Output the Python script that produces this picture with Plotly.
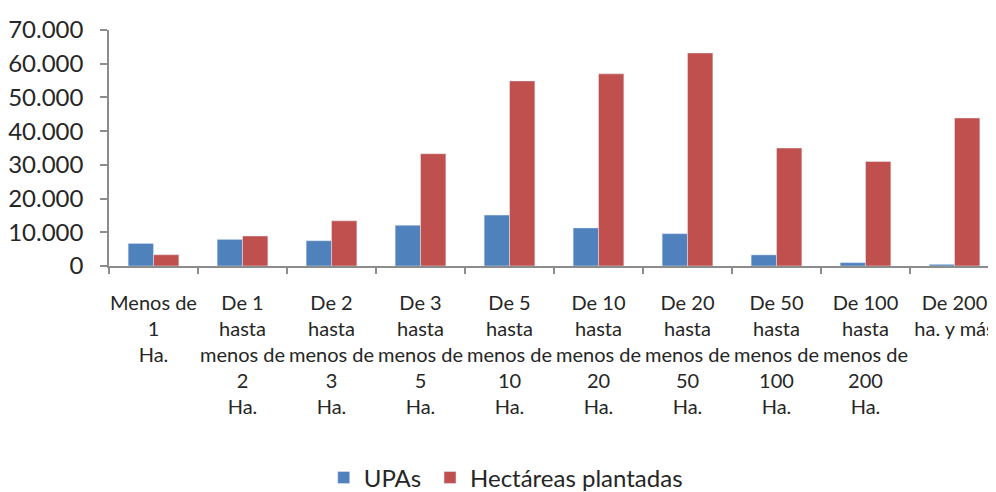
import plotly.graph_objects as go

categories = [
    "Menos de<br>1<br>Ha.",
    "De 1<br>hasta<br>menos de<br>2<br>Ha.",
    "De 2<br>hasta<br>menos de<br>3<br>Ha.",
    "De 3<br>hasta<br>menos de<br>5<br>Ha.",
    "De 5<br>hasta<br>menos de<br>10<br>Ha.",
    "De 10<br>hasta<br>menos de<br>20<br>Ha.",
    "De 20<br>hasta<br>menos de<br>50<br>Ha.",
    "De 50<br>hasta<br>menos de<br>100<br>Ha.",
    "De 100<br>hasta<br>menos de<br>200<br>Ha.",
    "De 200<br>ha. y más",
]
upas = [6700, 7900, 7500, 12100, 15100, 11300, 9600, 3300, 1000, 500]
hectareas = [3350, 8900, 13400, 33300, 54900, 57000, 63200, 35000, 31000, 43900]

fig = go.Figure()
fig.add_trace(go.Bar(x=categories, y=upas, name="UPAs", marker_color="#4F81BD",
                     legend="legend"))
fig.add_trace(go.Bar(x=categories, y=hectareas, name="Hectáreas plantadas",
                     marker_color="#C0504D", legend="legend2"))

leg_common = dict(orientation="h", xanchor="left", xref="container",
                  y=0.045, yanchor="middle", yref="container",
                  font=dict(size=24, family="Lato", color="#262626"), itemwidth=30,
                  bgcolor="rgba(0,0,0,0)")

fig.update_layout(
    width=996, height=492,
    margin=dict(l=101, r=5, t=22, b=234, autoexpand=False),
    paper_bgcolor="white", plot_bgcolor="white",
    barmode="group", bargap=0.43, bargroupgap=0,
    separators=",.",
    font=dict(family="Lato", color="#262626"),
    showlegend=True,
    legend=dict(x=0.317, **leg_common),
    legend2=dict(x=0.4237, **leg_common),
)
fig.update_xaxes(
    range=[-0.5, 9.5], showline=True, linecolor="#8C8C8C", linewidth=1.5,
    ticks="outside", tickson="boundaries", ticklen=6, tickcolor="#8C8C8C", tickwidth=1.5,
    tickfont=dict(size=20, family="Lato", color="#262626"), tickangle=0,
    showgrid=False, automargin=False, ticklabelstandoff=18,
)
fig.update_yaxes(
    range=[0, 70000], dtick=10000, tickformat=",d", showline=True, linecolor="#8C8C8C",
    linewidth=1.5, ticks="outside", ticklen=7, tickcolor="#8C8C8C", tickwidth=1.5,
    tickfont=dict(size=24, family="Lato", color="#262626"), showgrid=False, zeroline=False,
    automargin=False, ticklabelstandoff=12,
)

fig.write_html("out.html")
